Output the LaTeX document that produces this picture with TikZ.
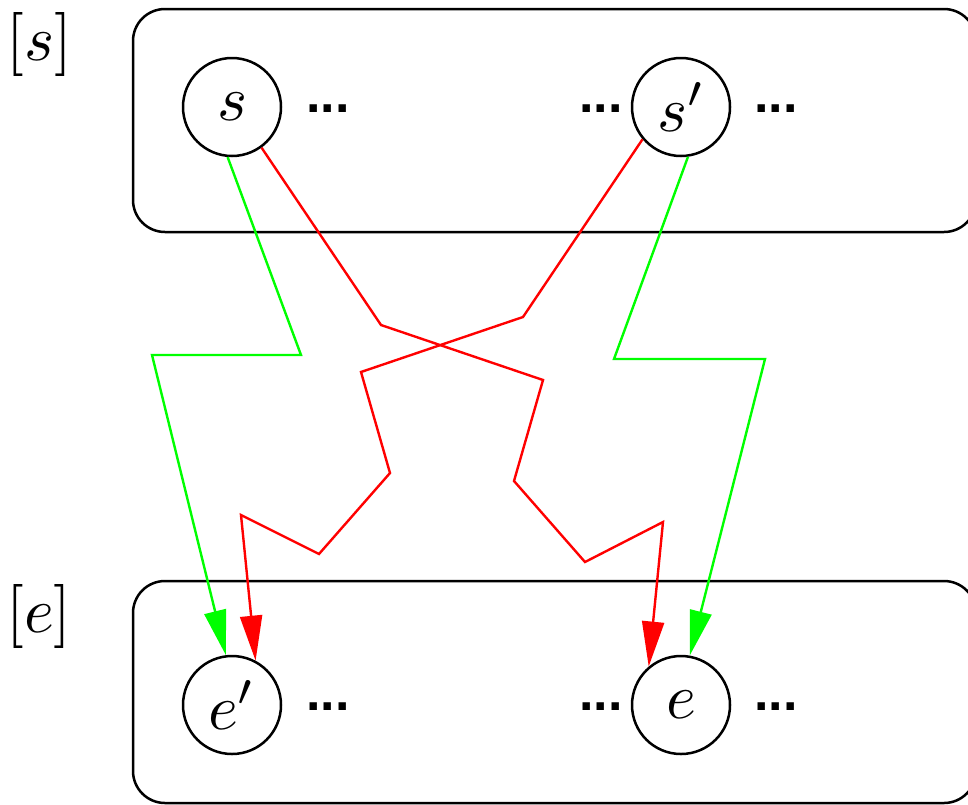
\documentclass[tikz,border=0pt]{standalone}
\usepackage{fontspec}
\newfontfamily\dotfont{Liberation Sans}
\usetikzlibrary{arrows.meta}
\newcommand{\bigsym}[1]{\scalebox{3.2}{$#1$}}

\begin{document}
\begin{tikzpicture}[x=0.5pt,y=-0.5pt,
  state/.style={circle,draw,line width=1.25pt,minimum size=49pt,inner sep=0pt},
  group/.style={draw,line width=1.25pt,rounded corners=16pt},
  lbl/.style={anchor=base west,inner sep=0pt},
  more/.style={font=\dotfont\bfseries\fontsize{26}{30}\selectfont,anchor=base,inner sep=0pt},
  link/.style={line width=1.2pt,-{Triangle[length=22.5pt,width=11pt]}},
  goodlink/.style={link,draw=green},
  badlink/.style={link,draw=red}]
\useasboundingbox (0,0) rectangle (968,804);

% the two classes
\draw[group] (133,9) rectangle (976,232);
\draw[group] (133,581) rectangle (976,803);
\node[lbl] (ls) at (6,60) {\bigsym{[s]}};
\node[lbl] (le) at (6,632) {\bigsym{[e]}};

% states
\node[state] (s)  at (232,107) {\bigsym{s}};
\node[state] (sp) at (681,107) {\bigsym{s'}};
\node[state] (ep) at (232,705) {\bigsym{e'}};
\node[state] (e)  at (681,705) {\bigsym{e}};

% ellipses beside the states
\node[more] (d1) at (328,112) {...};
\node[more] (d2) at (601,112) {...};
\node[more] (d3) at (776,112) {...};
\node[more] (d4) at (328,710) {...};
\node[more] (d5) at (601,710) {...};
\node[more] (d6) at (776,710) {...};

% transitions
\draw[badlink] (s.-54) -- (381,325) -- (543,380) -- (514,481) -- (585,562) -- (663,522) -- (e.130);
\draw[badlink] (sp.220) -- (523,317) -- (361,372) -- (390,473) -- (319,554) -- (241,515) -- (ep.62);
\draw[goodlink] (s.-95) -- (301,355) -- (152,355) -- (ep.97);
\draw[goodlink] (sp.-82) -- (614,359) -- (765,359) -- (e.80);
\end{tikzpicture}
\end{document}
